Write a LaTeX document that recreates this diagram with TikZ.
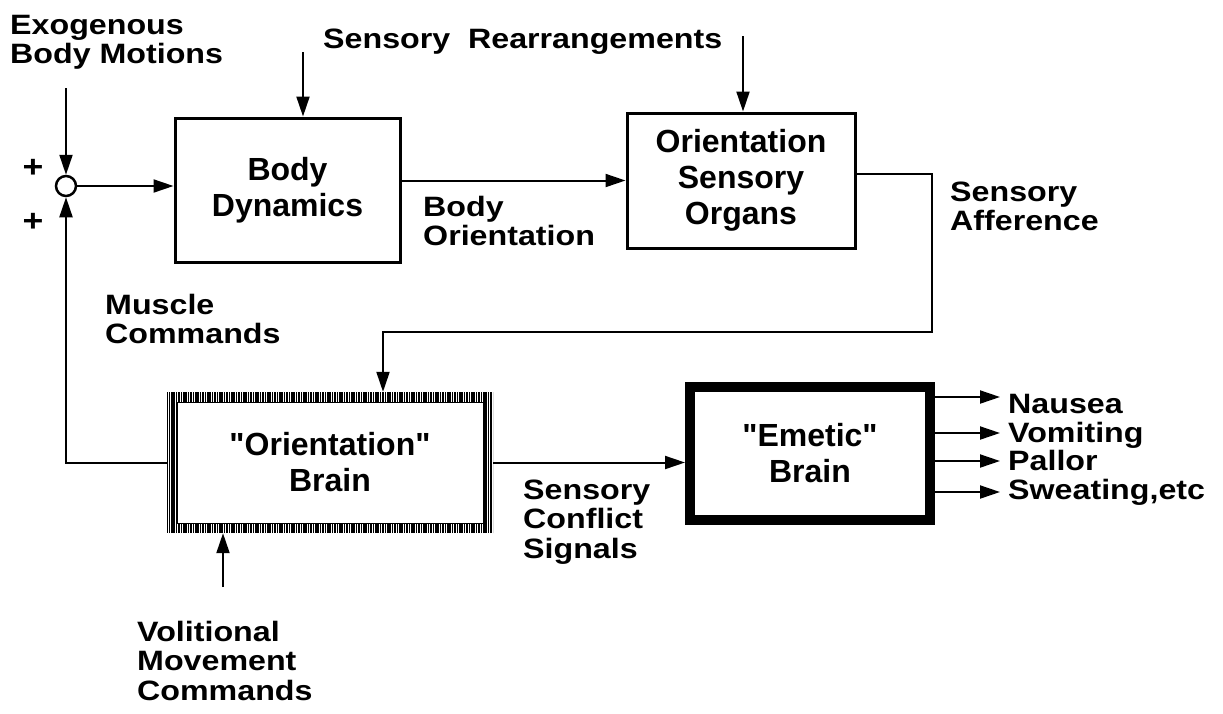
\documentclass[tikz,border=0pt]{standalone}
\usepackage{fontspec}
\setmainfont{Liberation Sans}
\newfontfamily\bfam{Liberation Sans}
\newfontfamily\lfam[FakeStretch=1.15]{Liberation Sans}
\usetikzlibrary{arrows.meta,calc}
\tikzset{
  boxfont/.style={font=\bfam\fontsize{32}{36}\selectfont\bfseries},
  labelfont/.style={font=\lfam\fontsize{28}{29.5}\selectfont\bfseries},
  plainbox/.style={draw, line width=3pt, boxfont, align=center, inner sep=0pt},
  lab/.style={labelfont, align=left, anchor=base west, inner sep=0pt},
  conn/.style={line width=2pt},
  arr/.style={conn, -{Triangle[length=20pt,width=13pt]}},
  hatchbox/.style={fill=white, boxfont, align=center, inner sep=0pt,
    path picture={
      \foreach \i in {0,...,140}{
        \draw[line width=1.5pt] ([xshift=\i*2.4pt]path picture bounding box.south west) -- ([xshift=\i*2.4pt]path picture bounding box.north west);
      }
      \fill[white] ([shift={(10pt,10pt)}]path picture bounding box.south west) rectangle ([shift={(-10pt,-10pt)}]path picture bounding box.north east);
      \draw[line width=0.8pt] ([shift={(10pt,10pt)}]path picture bounding box.south west) rectangle ([shift={(-10pt,-10pt)}]path picture bounding box.north east);
    }},
}
\begin{document}
\begin{tikzpicture}[x=1pt,y=-1pt]
\useasboundingbox (0,0) rectangle (1223,713);

% boxes
\node[plainbox, minimum width=225pt, minimum height=144pt] (bd) at (287.5,190) {Body\\Dynamics};
\node[plainbox, minimum width=228pt, minimum height=135pt] (oso) at (741,180.5) {Orientation\\Sensory\\Organs};
\node[hatchbox, minimum width=326pt, minimum height=141pt] (ob) at (330,462.5) {"Orientation"\\Brain};
\node[draw, line width=10pt, minimum width=240pt, minimum height=133pt, boxfont, align=center, inner sep=0pt] (eb) at (810,453.5) {"Emetic"\\Brain};

% summing junction
\node[circle, draw, line width=2.5pt, fill=white, minimum size=20pt, inner sep=0pt] (sum) at (66,186) {};
\node[labelfont, font=\lfam\fontsize{31}{31}\selectfont\bfseries, inner sep=0pt] (p1) at (33,168) {+};
\node[labelfont, font=\lfam\fontsize{31}{31}\selectfont\bfseries, inner sep=0pt] (p2) at (33,222) {+};

% labels (anchor = baseline of last line)
\node[lab] (exo) at (10,63.5) {Exogenous\\Body Motions};
\node[lab] (sr) at (323,48) {Sensory\ \ Rearrangements};
\node[lab] (bo) at (423,245.5) {Body\\Orientation};
\node[lab] (sa) at (950,230.5) {Sensory\\Afference};
\node[lab] (mc) at (105,343.5) {Muscle\\Commands};
\node[lab] (scs) at (523,558) {Sensory\\Conflict\\Signals};
\node[lab] (vmc) at (137,700) {Volitional\\Movement\\Commands};
\node[lab] (nau) at (1008,413) {Nausea};
\node[lab] (vom) at (1008,442) {Vomiting};
\node[lab] (pal) at (1008,470) {Pallor};
\node[lab] (swe) at (1008,499) {Sweating,etc};

% coordinates
\coordinate (e1) at (66,88);
\coordinate (r1) at (303,52);
\coordinate (r2) at (743,36);
\coordinate (c1) at (932,174);
\coordinate (c2) at (932,332);
\coordinate (c3) at (383,332);
\coordinate (v1) at (223,587);
\coordinate (o1) at (1000,397);
\coordinate (o2) at (1000,433);
\coordinate (o3) at (1000,461);
\coordinate (o4) at (1000,492);

% connectors
\draw[arr] (e1) -- (sum);
\draw[arr] (sum) -- (sum -| bd.west);
\draw[arr] (r1) -- (r1 |- bd.north);
\draw[arr] (r2) -- (r2 |- oso.north);
\draw[arr] (oso.west -| bd.east) -- (oso.west);
\draw[arr] (oso.east |- c1) -- (c1) -- (c2) -- (c3) -- (c3 |- ob.north);
\draw[arr] (ob.west) -- (sum |- ob.west) -- (sum);
\draw[arr] (v1) -- (v1 |- ob.south);
\draw[arr] (ob.east) -- (ob.east -| eb.west);
\draw[arr] (eb.east |- o1) -- (o1);
\draw[arr] (eb.east |- o2) -- (o2);
\draw[arr] (eb.east |- o3) -- (o3);
\draw[arr] (eb.east |- o4) -- (o4);
\end{tikzpicture}
\end{document}
